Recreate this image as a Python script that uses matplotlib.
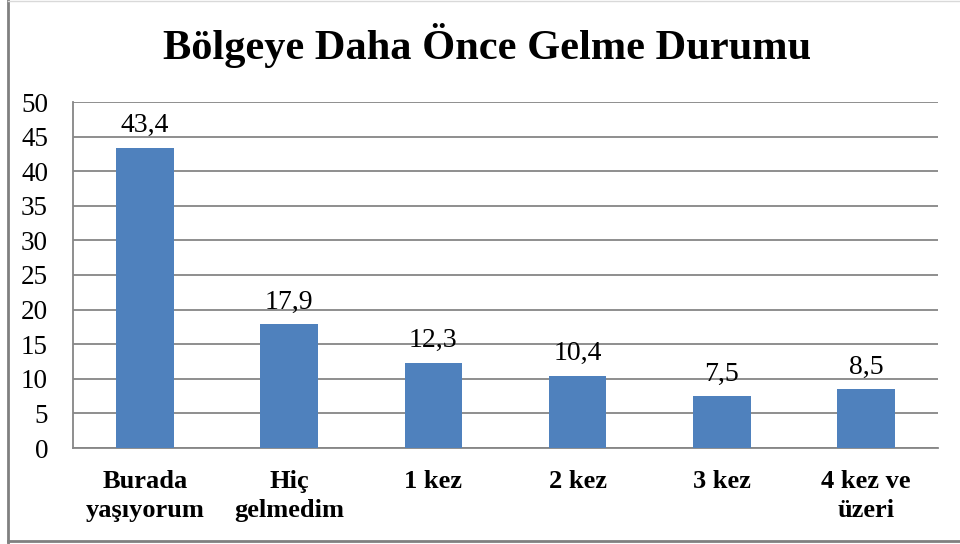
import matplotlib.pyplot as plt
from matplotlib.lines import Line2D

categories = ["Burada\nyaşıyorum", "Hiç\ngelmedim", "1 kez", "2 kez", "3 kez", "4 kez ve\nüzeri"]
values = [43.4, 17.9, 12.3, 10.4, 7.5, 8.5]
value_labels = ["43,4", "17,9", "12,3", "10,4", "7,5", "8,5"]
yticks = [0, 5, 10, 15, 20, 25, 30, 35, 40, 45, 50]

plt.rcParams['font.family'] = 'Liberation Serif'

fig = plt.figure(figsize=(9.6, 5.44), dpi=100)
ax = fig.add_axes([73 / 960, 1 - 448 / 544, (938 - 73) / 960, (448 - 102) / 544])

x = range(len(categories))
ax.bar(x, values, width=0.4, color='#4F81BD', zorder=3)
for xi, v, lab in zip(x, values, value_labels):
    ax.text(xi, v + 1.4, lab, ha='center', va='bottom', fontsize=20)

ax.set_xlim(-0.5, len(categories) - 0.5)
ax.set_ylim(0, 50)
ax.set_yticks(yticks)
ax.set_yticklabels([str(t) for t in yticks], fontsize=19.5)
ax.set_xticks(list(x))
ax.set_xticklabels(categories, fontsize=19, fontweight='bold', linespacing=1.3)
ax.tick_params(axis='y', length=0, pad=18)
ax.tick_params(axis='x', length=0, pad=16)
ax.yaxis.grid(True, color='#868686', linewidth=1.3, zorder=0)
for s in ['top', 'right']:
    ax.spines[s].set_visible(False)
for s in ['left', 'bottom']:
    ax.spines[s].set_color('#868686')
    ax.spines[s].set_linewidth(1.3)

fig.text(487.5 / 960, 1 - 45 / 544, "Bölgeye Daha Önce Gelme Durumu", ha='center', va='center',
         fontsize=30.5, fontweight='bold')

# chart border
fig.add_artist(Line2D([7.5 / 960, 7.5 / 960], [0, 1], transform=fig.transFigure, color='#808080', lw=2))
fig.add_artist(Line2D([7.5 / 960, 1], [1 - 541 / 544, 1 - 541 / 544], transform=fig.transFigure, color='#808080', lw=2))
fig.add_artist(Line2D([7.5 / 960, 1], [0.999, 0.999], transform=fig.transFigure, color='#d9d9d9', lw=1))

fig.savefig("out.png", dpi=100, facecolor='white')
